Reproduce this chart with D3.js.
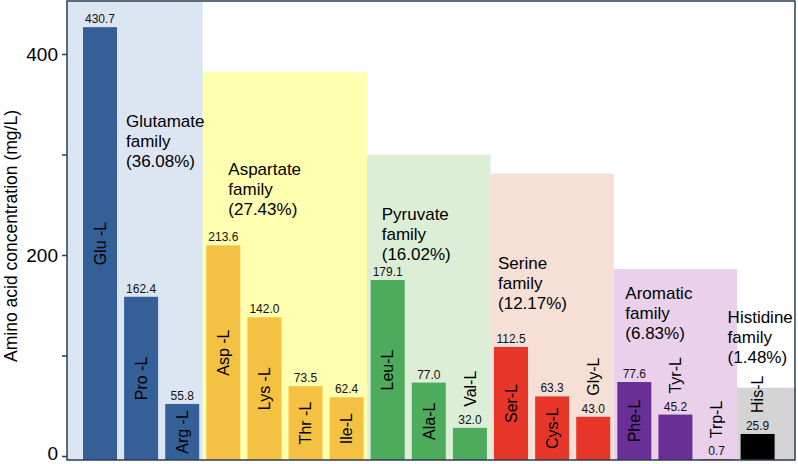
<!DOCTYPE html>
<html>
<head>
<meta charset="utf-8">
<script src="https://cdn.jsdelivr.net/npm/d3@7"></script>
<style>
  html, body { margin: 0; padding: 0; background: #fff; }
  svg { display: block; font-family: "Liberation Sans", Arial, Helvetica, sans-serif; }
</style>
</head>
<body>
<svg id="chart" width="798" height="464"></svg>
<script>
// ---------- data ----------
const aminoAcids = ["Glu -L", "Pro -L", "Arg -L", "Asp -L", "Lys -L", "Thr -L", "Ile-L",
  "Leu-L", "Ala-L", "Val-L", "Ser-L", "Cys-L", "Gly-L", "Phe-L", "Tyr-L", "Trp-L", "His-L"];
const concentrations = [430.7, 162.4, 55.8, 213.6, 142.0, 73.5, 62.4,
  179.1, 77.0, 32.0, 112.5, 63.3, 43.0, 77.6, 45.2, 0.7, 25.9];
const familyOf = ["Glutamate", "Glutamate", "Glutamate", "Aspartate", "Aspartate", "Aspartate", "Aspartate",
  "Pyruvate", "Pyruvate", "Pyruvate", "Serine", "Serine", "Serine", "Aromatic", "Aromatic", "Aromatic", "Histidine"];
const families = ["Glutamate", "Aspartate", "Pyruvate", "Serine", "Aromatic", "Histidine"];
const familyShares = ["36.08%", "27.43%", "16.02%", "12.17%", "6.83%", "1.48%"];
const familyPanelTop = [460, 386, 304, 285, 190, 72];   // height of shaded family panels (mg/L units)
const yTickValues = [0, 100, 200, 300, 400];
const yTickLabels = ["0", "", "200", "", "400"];
const yTitle = "Amino acid concentration (mg/L)";

// ---------- styles / layout ----------
const barColors = {Glutamate: "#345f97", Aspartate: "#f5c143", Pyruvate: "#4dab5c",
  Serine: "#e8352a", Aromatic: "#6a2f97", Histidine: "#000000"};
const panelColors = {Glutamate: "#dce6f2", Aspartate: "#ffffb0", Pyruvate: "#dcefd6",
  Serine: "#f6e0d6", Aromatic: "#ebd0eb", Histidine: "#d4d4d4"};
const familyLabelDx = [43, 22, 11, 4, 8, -13];
const familyLabelY = [331, 284, 239, 190, 160, 136];
const insideMin = 50;

const W = 798, H = 464;
const plot = {left: 67, right: 795, top: 1, bottom: 460};

const svg = d3.select("#chart");

const x = d3.scaleBand().domain(aminoAcids).range([plot.left, plot.right])
  .paddingInner(0.173).paddingOuter(0.443).align(0.44);
const y = d3.scaleLinear().domain([0, 400]).range([plot.bottom, 58]);
const half = x.step() * x.paddingInner() / 2;

// family panels
const famData = families.map((f, i) => {
  const idx = aminoAcids.filter((a, j) => familyOf[j] === f);
  const first = idx[0], last = idx[idx.length - 1];
  const x0 = i === 0 ? plot.left : x(first) - half;
  const x1 = i === families.length - 1 ? plot.right : x(last) + x.bandwidth() + half;
  return {f, i, x0, x1, top: Math.max(plot.top, y(familyPanelTop[i])), first};
});

svg.append("g").selectAll("rect").data(famData).join("rect")
  .attr("x", d => d.x0).attr("width", d => d.x1 - d.x0)
  .attr("y", d => d.top).attr("height", d => plot.bottom - d.top)
  .attr("fill", d => panelColors[d.f]);

// bars
const bars = aminoAcids.map((a, i) => ({a, v: concentrations[i], f: familyOf[i]}));
svg.append("g").selectAll("rect").data(bars).join("rect")
  .attr("x", d => x(d.a)).attr("width", x.bandwidth())
  .attr("y", d => y(d.v)).attr("height", d => plot.bottom - y(d.v))
  .attr("fill", d => barColors[d.f]);

// value labels
svg.append("g").selectAll("text").data(bars).join("text")
  .attr("x", d => x(d.a) + x.bandwidth() / 2)
  .attr("y", d => y(d.v) - 4)
  .attr("text-anchor", "middle")
  .attr("font-size", 12).attr("fill", "#111")
  .text(d => d.v.toFixed(1));

// name labels (rotated)
svg.append("g").selectAll("text").data(bars).join("text")
  .attr("transform", d => {
    const cx = x(d.a) + x.bandwidth() / 2;
    const cy = d.v >= insideMin ? (y(d.v) + plot.bottom) / 2 : y(d.v) - 21;
    return `translate(${cx},${cy}) rotate(-90)`;
  })
  .attr("text-anchor", d => d.v >= insideMin ? "middle" : "start")
  .attr("dy", "0.36em")
  .attr("font-size", 16).attr("fill", "#000")
  .text(d => d.a);

// family labels
const fl = svg.append("g").selectAll("text").data(famData).join("text")
  .attr("x", d => x(d.first) + familyLabelDx[d.i])
  .attr("y", d => y(familyLabelY[d.i]))
  .attr("font-size", 17).attr("fill", "#000");
fl.append("tspan").text(d => d.f);
fl.append("tspan").attr("x", d => x(d.first) + familyLabelDx[d.i]).attr("dy", 20).text("family");
fl.append("tspan").attr("x", d => x(d.first) + familyLabelDx[d.i]).attr("dy", 20)
  .text(d => "(" + familyShares[d.i] + ")");

// y axis (slightly raised, as in the reference)
const yAxis = d3.axisLeft(y).tickValues(yTickValues)
  .tickFormat((d, i) => yTickLabels[i]).tickSize(5).tickPadding(4);
const ga = svg.append("g").attr("transform", `translate(${plot.left},-4)`).call(yAxis);
ga.select(".domain").remove();
ga.selectAll(".tick line").attr("stroke", "#2c3e50").attr("stroke-width", 1.5);
ga.selectAll(".tick text").attr("font-size", 19).attr("fill", "#000")
  .attr("font-family", "Liberation Sans, Arial, sans-serif")
  .attr("y", d => d === 0 ? -3 : 0);

// frame
svg.append("rect")
  .attr("x", plot.left).attr("y", plot.top)
  .attr("width", plot.right - plot.left).attr("height", plot.bottom - plot.top)
  .attr("fill", "none").attr("stroke", "#2c3e50").attr("stroke-width", 1.5);

// y title
svg.append("text")
  .attr("transform", `translate(11,236) rotate(-90)`)
  .attr("text-anchor", "middle").attr("dy", "0.35em")
  .attr("font-size", 17.5).attr("fill", "#000")
  .text(yTitle);
</script>
</body>
</html>
